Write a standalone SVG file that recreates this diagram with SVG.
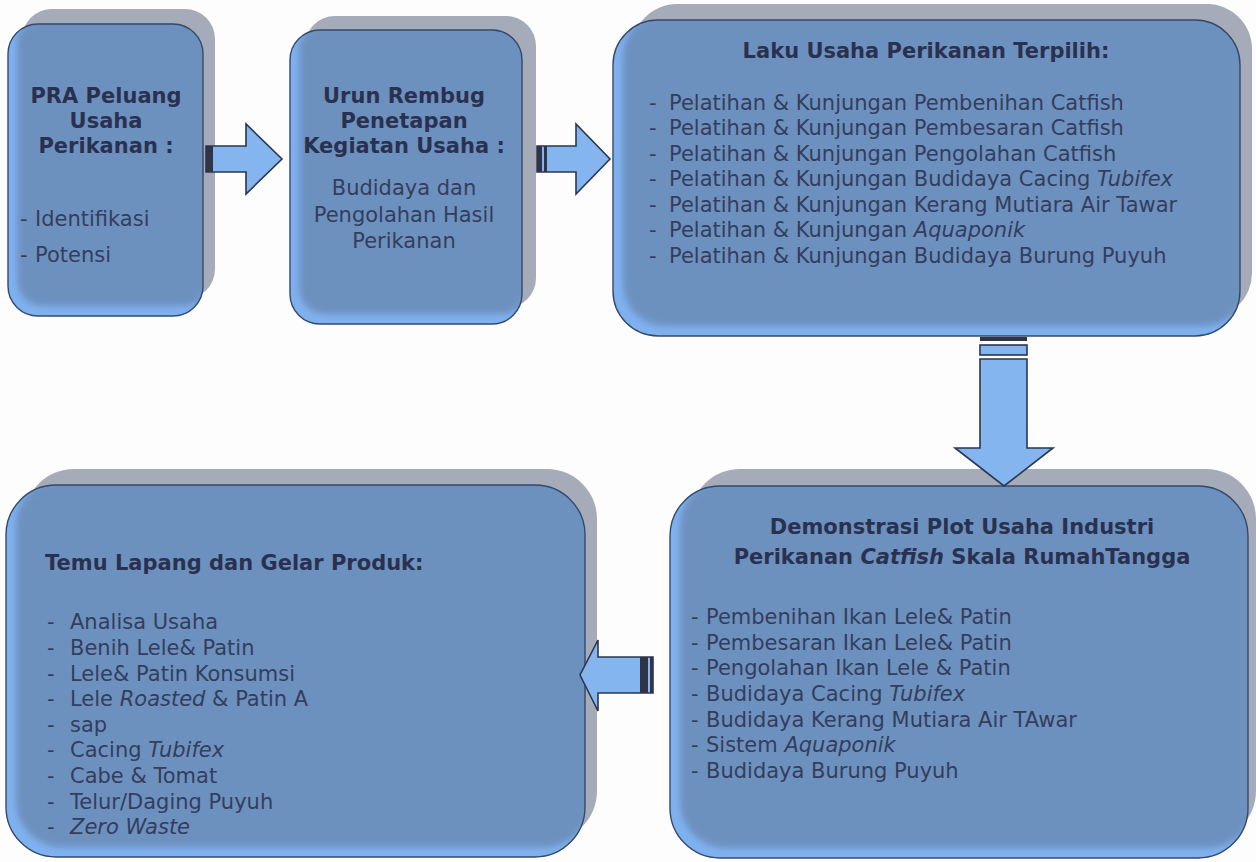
<svg xmlns="http://www.w3.org/2000/svg" width="1256" height="862" viewBox="0 0 1256 862">
<style>
.shadow{fill:#a6abb9}
.front{fill:#7fb1ef}
.body{fill:#6d91bf}
.outline{fill:none;stroke:#34496a;stroke-width:1.4}
.t{font-family:"DejaVu Sans","Verdana",sans-serif;font-size:21px;fill:#343d5c}
.b{font-weight:bold;fill:#2a3150}
.m{text-anchor:middle}
.i{font-style:italic}
.arrow{fill:#85b5ef;stroke:#2b3650;stroke-width:1.6;stroke-linejoin:miter}
.bar{fill:#2f3447}
</style>
<defs>
<filter id="soft" x="-5%" y="-5%" width="110%" height="110%"><feGaussianBlur stdDeviation="3"/></filter>
<clipPath id="c1"><rect x="8" y="24" width="195" height="292" rx="30"/></clipPath>
<clipPath id="c2"><rect x="290" y="30" width="232" height="294" rx="30"/></clipPath>
<clipPath id="c3"><rect x="613" y="20" width="627" height="316" rx="45"/></clipPath>
<clipPath id="c4"><rect x="670" y="486" width="578" height="372" rx="50"/></clipPath>
<clipPath id="c5"><rect x="6" y="485" width="579" height="372" rx="50"/></clipPath>
</defs>
<rect width="1256" height="862" fill="#fdfdfd"/>

<g id="node-pra">
<rect class="shadow" x="22" y="9" width="193" height="290" rx="30"/>
<rect class="front" x="8" y="24" width="195" height="292" rx="30"/>
<rect class="body" x="17" y="18" width="192" height="288" rx="26" clip-path="url(#c1)" filter="url(#soft)"/>
<rect class="outline" x="8" y="24" width="195" height="292" rx="30"/>
<text class="t b m" x="106" y="103">PRA Peluang</text>
<text class="t b m" x="106" y="128">Usaha</text>
<text class="t b m" x="106" y="153">Perikanan :</text>
<text class="t" x="20" y="226">-<tspan x="35">Identifikasi</tspan></text>
<text class="t" x="20" y="262">-<tspan x="35">Potensi</tspan></text>
</g>

<g id="node-urun">
<rect class="shadow" x="305" y="16" width="231" height="292" rx="30"/>
<rect class="front" x="290" y="30" width="232" height="294" rx="30"/>
<rect class="body" x="299" y="24" width="229" height="290" rx="26" clip-path="url(#c2)" filter="url(#soft)"/>
<rect class="outline" x="290" y="30" width="232" height="294" rx="30"/>
<text class="t b m" x="404" y="103">Urun Rembug</text>
<text class="t b m" x="404" y="128">Penetapan</text>
<text class="t b m" x="404" y="153">Kegiatan Usaha :</text>
<text class="t m" x="404" y="195">Budidaya dan</text>
<text class="t m" x="404" y="222">Pengolahan Hasil</text>
<text class="t m" x="404" y="248">Perikanan</text>
</g>

<g id="node-laku">
<rect class="shadow" x="632" y="4" width="620" height="314" rx="45"/>
<rect class="front" x="613" y="20" width="627" height="316" rx="45"/>
<rect class="body" x="623" y="14" width="623" height="312" rx="42" clip-path="url(#c3)" filter="url(#soft)"/>
<rect class="outline" x="613" y="20" width="627" height="316" rx="45"/>
<text class="t b m" x="926" y="58">Laku Usaha Perikanan Terpilih:</text>
<text class="t" x="649" y="110">-<tspan x="669">Pelatihan &amp; Kunjungan Pembenihan Catfish</tspan></text>
<text class="t" x="649" y="135">-<tspan x="669">Pelatihan &amp; Kunjungan Pembesaran Catfish</tspan></text>
<text class="t" x="649" y="161">-<tspan x="669">Pelatihan &amp; Kunjungan Pengolahan Catfish</tspan></text>
<text class="t" x="649" y="186">-<tspan x="669">Pelatihan &amp; Kunjungan Budidaya Cacing </tspan><tspan class="i">Tubifex</tspan></text>
<text class="t" x="649" y="212">-<tspan x="669">Pelatihan &amp; Kunjungan Kerang Mutiara Air Tawar</tspan></text>
<text class="t" x="649" y="237">-<tspan x="669">Pelatihan &amp; Kunjungan </tspan><tspan class="i">Aquaponik</tspan></text>
<text class="t" x="649" y="263">-<tspan x="669">Pelatihan &amp; Kunjungan Budidaya Burung Puyuh</tspan></text>
</g>

<g id="node-demplot">
<rect class="shadow" x="690" y="469" width="566" height="372" rx="50"/>
<rect class="front" x="670" y="486" width="578" height="372" rx="50"/>
<rect class="body" x="680" y="480" width="574" height="368" rx="46" clip-path="url(#c4)" filter="url(#soft)"/>
<rect class="outline" x="670" y="486" width="578" height="372" rx="50"/>
<text class="t b m" x="962" y="534">Demonstrasi Plot Usaha Industri</text>
<text class="t b m" x="962" y="564">Perikanan <tspan class="i">Catfish</tspan> Skala RumahTangga</text>
<text class="t" x="691" y="624">-<tspan x="706">Pembenihan Ikan Lele&amp; Patin</tspan></text>
<text class="t" x="691" y="650">-<tspan x="706">Pembesaran Ikan Lele&amp; Patin</tspan></text>
<text class="t" x="691" y="675">-<tspan x="706">Pengolahan Ikan Lele &amp; Patin</tspan></text>
<text class="t" x="691" y="701">-<tspan x="706">Budidaya Cacing </tspan><tspan class="i">Tubifex</tspan></text>
<text class="t" x="691" y="727">-<tspan x="706">Budidaya Kerang Mutiara Air TAwar</tspan></text>
<text class="t" x="691" y="752">-<tspan x="706">Sistem </tspan><tspan class="i">Aquaponik</tspan></text>
<text class="t" x="691" y="778">-<tspan x="706">Budidaya Burung Puyuh</tspan></text>
</g>

<g id="node-temu">
<rect class="shadow" x="24" y="469" width="573" height="372" rx="50"/>
<rect class="front" x="6" y="485" width="579" height="372" rx="50"/>
<rect class="body" x="16" y="479" width="575" height="368" rx="46" clip-path="url(#c5)" filter="url(#soft)"/>
<rect class="outline" x="6" y="485" width="579" height="372" rx="50"/>
<text class="t b" x="45" y="570">Temu Lapang dan Gelar Produk:</text>
<text class="t" x="47" y="629">-<tspan x="70">Analisa Usaha</tspan></text>
<text class="t" x="47" y="655">-<tspan x="70">Benih Lele&amp; Patin</tspan></text>
<text class="t" x="47" y="681">-<tspan x="70">Lele&amp; Patin Konsumsi</tspan></text>
<text class="t" x="47" y="706">-<tspan x="70">Lele </tspan><tspan class="i">Roasted</tspan> &amp; Patin A</text>
<text class="t" x="47" y="732">-<tspan x="70">sap</tspan></text>
<text class="t" x="47" y="757">-<tspan x="70">Cacing </tspan><tspan class="i">Tubifex</tspan></text>
<text class="t" x="47" y="783">-<tspan x="70">Cabe &amp; Tomat</tspan></text>
<text class="t" x="47" y="809">-<tspan x="70">Telur/Daging Puyuh</tspan></text>
<text class="t" x="47" y="834">-<tspan x="70" class="i">Zero Waste</tspan></text>
</g>

<g id="connectors">
<g id="arrow-1-2">
<path class="arrow" d="M206,146 H246 V124 L282,159 L246,194 V172 H206 Z"/>
<rect class="bar" x="206" y="146" width="7" height="26"/>
</g>
<g id="arrow-2-3">
<path class="arrow" d="M537,146 H576 V124 L610,159 L576,194 V172 H537 Z"/>
<rect class="bar" x="537" y="146" width="5" height="26"/>
<rect class="bar" x="544" y="146" width="3" height="26"/>
</g>
<g id="arrow-3-4">
<rect class="bar" x="980" y="337" width="47" height="4"/>
<rect class="arrow" x="980" y="345" width="47" height="10"/>
<path class="arrow" d="M980,359 H1027 V448 H1053 L1004,486 L955,448 H980 Z"/>
</g>
<g id="arrow-4-5">
<path class="arrow" d="M653,657 H598 V640 L580,675 L598,711 V693 H653 Z"/>
<rect class="bar" x="640" y="657" width="8" height="36"/>
<rect class="bar" x="650" y="657" width="3" height="36"/>
</g>
</g>
</svg>
